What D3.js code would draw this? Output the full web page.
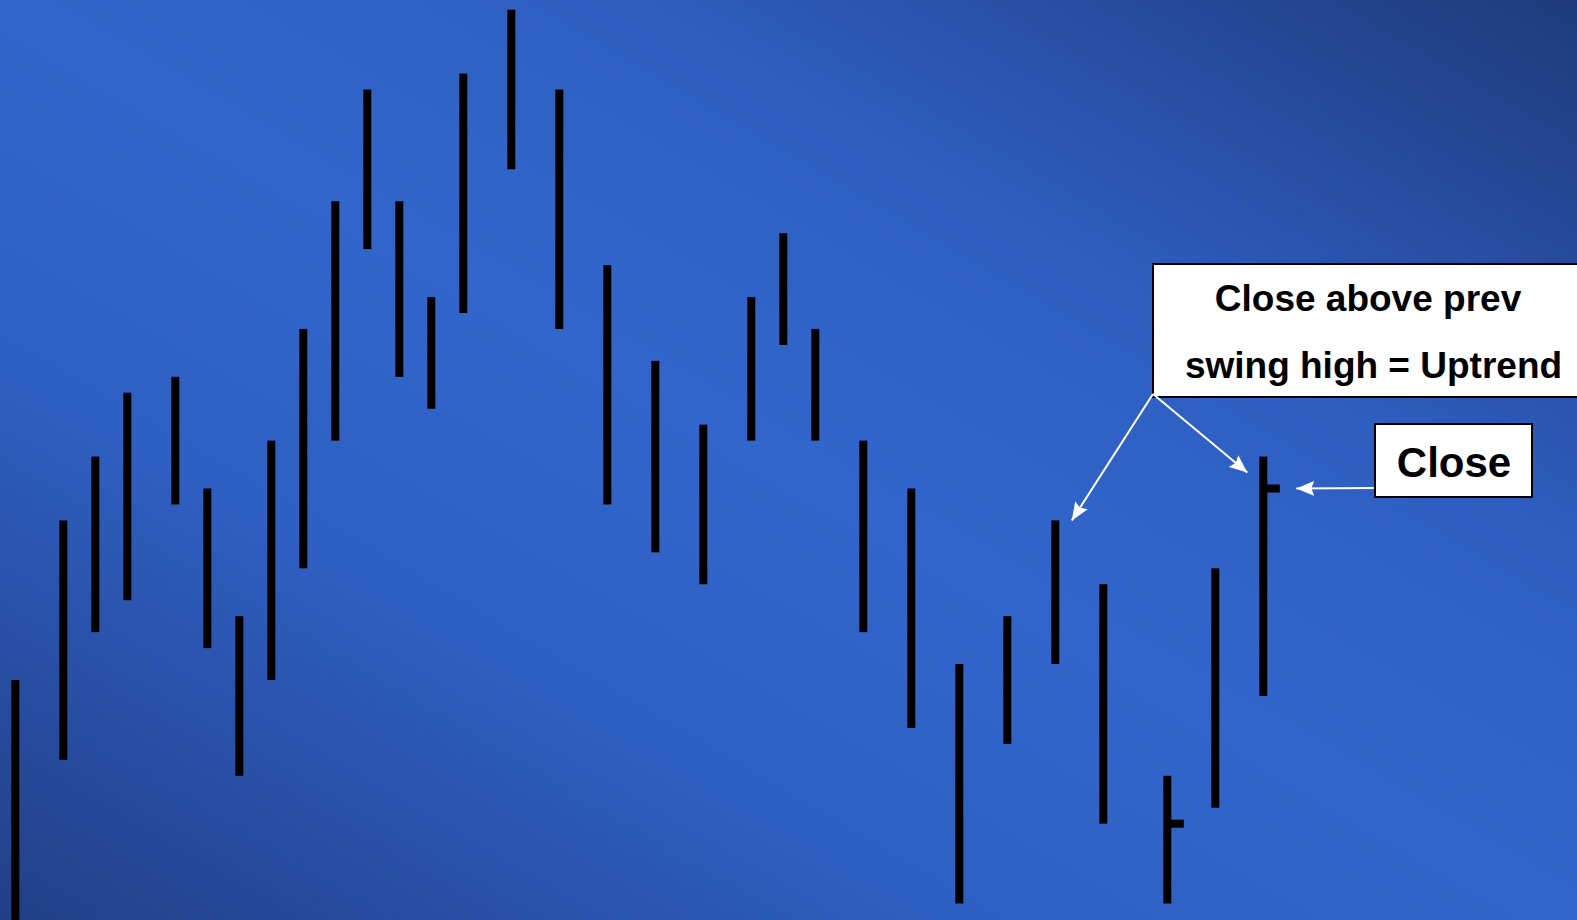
<!DOCTYPE html>
<html>
<head>
<meta charset="utf-8">
<script src="https://cdn.jsdelivr.net/npm/d3@7/dist/d3.min.js"></script>
<style>
html,body{margin:0;padding:0;overflow:hidden;background:#2f62c6;}
svg{display:block;}
</style>
</head>
<body>
<script>
// ---- data (price units; higher = higher price) ----
const barIndex = [0,3,5,7,10,12,14,16,18,20,22,24,26,28,31,34,37,40,43,46,48,50,53,56,59,62,65,68,72,75,78];
const highs    = [58,68,72,76,77,70,62,73,80,88,95,88,82,96,100,95,84,78,74,82,86,80,73,70,59,62,68,64,52,65,72];
const lows     = [42,53,61,63,69,60,52,58,65,73,85,77,75,81,90,80,69,66,64,73,79,73,61,55,44,54,59,49,44,50,57];
const closes   = [{bar:28, value:49},{bar:30, value:70}];
const calloutLines = ["Close above prev","swing high = Uptrend"];
const closeLabel = "Close";

const W = 1577, H = 920;
const svg = d3.select("body").append("svg").attr("width", W).attr("height", H);

// background gradient
const defs = svg.append("defs");
const grad = defs.append("linearGradient").attr("id","bg")
  .attr("x1",0).attr("y1",1).attr("x2",1).attr("y2",0);
grad.append("stop").attr("offset",0).attr("stop-color","#213f87");
grad.append("stop").attr("offset",0.3).attr("stop-color","#2e5fc2");
grad.append("stop").attr("offset",0.5).attr("stop-color","#3266cc");
grad.append("stop").attr("offset",0.7).attr("stop-color","#2e5ec0");
grad.append("stop").attr("offset",1).attr("stop-color","#1e3a7b");
svg.append("rect").attr("width",W).attr("height",H).attr("fill","url(#bg)");

const mk = defs.append("marker").attr("id","arr").attr("viewBox","0 0 18 16")
  .attr("refX",18).attr("refY",8).attr("markerWidth",18).attr("markerHeight",16)
  .attr("markerUnits","userSpaceOnUse").attr("orient","auto");
mk.append("path").attr("d","M0,0.5 L18,8 L0,15.5 L3,8 Z").attr("fill","#fff");

// scales
const x = d3.scaleLinear().domain([0,78]).range([15.3,1263.3]);
const y = d3.scaleLinear().domain([100,40]).range([9.7, 9.7+60*15.96]);

const bw = 8;
const bars = barIndex.map((b,i)=>({b, hi:highs[i], lo:lows[i]}));
svg.append("g").selectAll("rect").data(bars).join("rect")
  .attr("x", d=>x(d.b)-bw/2).attr("width", bw)
  .attr("y", d=>y(d.hi)).attr("height", d=>y(d.lo)-y(d.hi))
  .attr("fill","#000");

svg.append("g").selectAll("rect").data(closes).join("rect")
  .attr("x", d=>x(barIndex[d.bar])+bw/2-0.5).attr("width", 13)
  .attr("y", d=>y(d.value)-4).attr("height", 8)
  .attr("fill","#000");

// callout box 1
const b1 = {x:1153, y:264, w:440, h:133};
svg.append("rect").attr("x",b1.x).attr("y",b1.y).attr("width",b1.w).attr("height",b1.h)
  .attr("fill","#fff").attr("stroke","#000").attr("stroke-width",2);
const t1 = svg.append("g").attr("font-family","'Liberation Sans', Arial, sans-serif")
  .attr("font-weight","bold").attr("font-size",37).attr("fill","#000").attr("text-anchor","middle");
t1.append("text").attr("x",1368).attr("y",311).text(calloutLines[0]);
t1.append("text").attr("x",1373.5).attr("y",378).text(calloutLines[1]);

// arrows from box 1
const arrows = [
  {x1:1153, y1:394, x2:x(barIndex[26])+16.5, y2:y(highs[26])},
  {x1:1153, y1:394, x2:x(barIndex[30])-16, y2:y(highs[30])+16},
  {x1:1375, y1:488, x2:x(barIndex[30])+33, y2:y(closes[1].value)}
];
svg.append("g").selectAll("line").data(arrows).join("line")
  .attr("x1",d=>d.x1).attr("y1",d=>d.y1).attr("x2",d=>d.x2).attr("y2",d=>d.y2)
  .attr("stroke","#fff").attr("stroke-width",2).attr("marker-end","url(#arr)");

// callout box 2
const b2 = {x:1375, y:424, w:157, h:73};
svg.append("rect").attr("x",b2.x).attr("y",b2.y).attr("width",b2.w).attr("height",b2.h)
  .attr("fill","#fff").attr("stroke","#000").attr("stroke-width",2);
svg.append("text").attr("x",1454).attr("y",477)
  .attr("font-family","'Liberation Sans', Arial, sans-serif").attr("font-weight","bold")
  .attr("font-size",42).attr("fill","#000").attr("text-anchor","middle").text(closeLabel);
</script>
</body>
</html>
